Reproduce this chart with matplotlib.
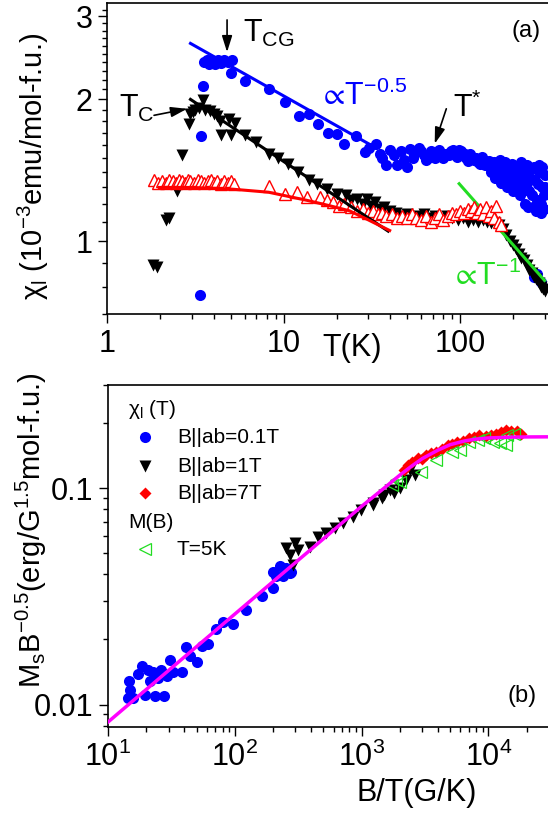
import matplotlib
matplotlib.use('Agg')
import matplotlib.pyplot as plt
from matplotlib.ticker import FixedLocator, FixedFormatter, NullFormatter, LogLocator

plt.rcParams['font.family'] = ['Liberation Sans', 'DejaVu Sans']
plt.rcParams['mathtext.fontset'] = 'custom'
plt.rcParams['mathtext.rm'] = 'Liberation Sans'
plt.rcParams['mathtext.it'] = 'Liberation Sans:italic'
plt.rcParams['mathtext.bf'] = 'Liberation Sans:bold'
plt.rcParams['mathtext.sf'] = 'Liberation Sans'
plt.rcParams['mathtext.default'] = 'regular'
plt.rcParams['mathtext.fallback'] = 'stixsans'

# ---- panel (a): chi_l(T) ----
T_01 = [3.35, 3.40, 3.47, 3.55, 3.65, 3.75, 3.85, 3.95, 4.1, 4.25, 4.4, 4.6, 4.8, 5.0, 5.1,
        6.0, 8.2, 10.2, 12.2, 13.9, 15.6, 17.9, 20.1, 22.0, 25.8, 28.9, 30.5, 33.2, 35, 38,
        40, 43.8, 46, 50, 52, 55, 58, 62, 66, 70, 74, 78, 83, 88, 93, 98, 103, 108, 114,
        120, 126, 132, 138, 145, 152, 160, 165, 172, 178, 185, 192, 198, 205, 212, 218,
        225, 232, 238, 245, 252, 258, 265, 272, 278, 285, 290, 296, 300, 262, 272, 285,
        36, 42, 48, 54, 60, 64, 68, 72, 76, 80, 86, 91, 96, 101, 106, 111, 117, 123, 129,
        135, 141, 148, 150, 155, 158, 162, 168, 170, 175, 180, 183, 188, 195, 200, 203, 208,
        215, 220, 228, 235, 240, 242, 248, 255, 260, 268, 275, 280, 288, 292, 298, 300]
chi_01 = [0.77, 1.67, 2.14, 2.40, 2.43, 2.38, 2.42, 2.40, 2.38, 2.42, 2.39, 2.43, 2.40, 2.28, 2.42,
          2.19, 2.10, 1.97, 1.84, 1.86, 1.775, 1.70, 1.69, 1.61, 1.676, 1.545, 1.58, 1.61, 1.53, 1.45,
          1.56, 1.45, 1.55, 1.44, 1.57, 1.53, 1.58, 1.52, 1.50, 1.53, 1.52, 1.54, 1.53, 1.55, 1.53, 1.56,
          1.52, 1.50, 1.53, 1.49, 1.47, 1.51, 1.45, 1.48, 1.44, 1.46, 1.40, 1.45, 1.38, 1.43, 1.35,
          1.40, 1.30, 1.42, 1.25, 1.38, 1.20, 1.33, 1.28, 1.42, 1.18, 1.35, 1.22, 1.45, 1.15, 1.30,
          1.25, 1.38, 0.84, 0.85, 0.82,
          1.50, 1.52, 1.49, 1.50, 1.55, 1.49, 1.55, 1.50, 1.56, 1.50, 1.52, 1.56, 1.51, 1.55, 1.53,
          1.48, 1.51, 1.50, 1.46, 1.49, 1.47, 1.45, 1.40, 1.47, 1.36, 1.43, 1.49, 1.33, 1.41, 1.47,
          1.30, 1.39, 1.46, 1.28, 1.37, 1.44, 1.33, 1.47, 1.29, 1.40, 1.45, 1.18, 1.36, 1.25, 1.44,
          1.16, 1.32, 1.40, 1.20, 1.44, 1.17, 1.30]

T_1 = [1.82, 1.92, 2.16, 2.24, 2.47, 2.64, 2.9, 2.96, 3.05, 3.15, 3.3, 3.48, 3.6, 3.8, 4.0, 4.2,
       4.35, 4.4, 4.9, 5.0, 5.3, 6.0, 7.0, 8.2, 9.3, 10.6, 12.0, 13.9, 15.5, 17.6, 20.1, 22.4,
       24, 26, 28, 29.6, 31, 33, 35, 37, 40, 43, 46, 50, 54, 58, 62, 67, 72, 78, 84, 90, 97,
       104, 111, 118, 126, 134, 142, 150, 158, 166, 174, 182, 190, 198, 206, 214, 222, 230,
       238, 246, 254, 262, 270, 278, 286, 294, 300]
chi_1 = [0.89, 0.88, 1.11, 1.12, 1.28, 1.52, 1.775, 1.86, 1.88, 1.90, 1.92, 1.99, 1.90, 1.89, 1.86, 1.84,
         1.80, 1.68, 1.82, 1.68, 1.78, 1.68, 1.62, 1.53, 1.50, 1.46, 1.40, 1.345, 1.32, 1.29, 1.26, 1.25,
         1.22, 1.23, 1.20, 1.23, 1.19, 1.21, 1.17, 1.18, 1.16, 1.15, 1.13, 1.14, 1.12, 1.13, 1.14, 1.12,
         1.13, 1.11, 1.13, 1.12, 1.11, 1.12, 1.10, 1.11, 1.10, 1.11, 1.10, 1.09, 1.09, 1.08, 1.06, 1.03,
         1.00, 0.98, 0.96, 0.94, 0.92, 0.91, 0.89, 0.87, 0.855, 0.84, 0.83, 0.815, 0.80, 0.79, 0.785]

T_7 = [1.85, 1.95, 2.05, 2.15, 2.25, 2.35, 2.45, 2.55, 2.65, 2.75, 2.85, 2.95, 3.1, 3.25, 3.4,
       3.55, 3.7, 3.85, 4.0, 4.2, 4.4, 4.6, 4.8, 5.0, 5.2, 8.2, 10.2, 11.9, 13.6, 16, 17.5, 19,
       20.5, 22, 24, 26, 28, 30, 32, 34, 36, 38, 41, 44, 47, 50, 53, 56, 60, 64, 68, 72, 76, 80,
       85, 90, 95, 100, 105, 110, 115, 120, 125, 130, 135, 140, 145, 150, 155, 160, 165, 170]
chi_7 = [1.35, 1.33, 1.34, 1.33, 1.35, 1.34, 1.33, 1.35, 1.34, 1.33, 1.35, 1.34, 1.33, 1.35, 1.34,
         1.33, 1.34, 1.35, 1.33, 1.34, 1.32, 1.34, 1.33, 1.34, 1.32, 1.31, 1.26, 1.27, 1.24, 1.24, 1.22, 1.21,
         1.19, 1.20, 1.18, 1.16, 1.17, 1.15, 1.16, 1.14, 1.15, 1.13, 1.14, 1.12, 1.13, 1.12, 1.14, 1.12,
         1.11, 1.13, 1.10, 1.12, 1.14, 1.11, 1.13, 1.15, 1.14, 1.16, 1.15, 1.17, 1.16, 1.18, 1.15, 1.17,
         1.14, 1.18, 1.13, 1.16, 1.12, 1.19, 1.10, 1.08]

# fit lines
fit_blue_T, fit_blue_chi = [2.96, 33], [2.63, 1.58]
fit_black_T, fit_black_chi = [2.96, 39], [2.0, 1.05]
fit_red_T = [1.97, 3.0, 5.0, 8.2, 13.6, 18.0, 23.5, 30.0, 39.8]
fit_red_chi = [1.30, 1.30, 1.29, 1.27, 1.22, 1.19, 1.16, 1.11, 1.053]
fit_green_T, fit_green_chi = [98.5, 300], [1.324, 0.825]

# ---- panel (b): scaling plot ----
bt_01 = [14.5, 15.8, 14.9, 14.7, 17.3, 18.4, 20.8, 22.7, 26.4, 21.4, 19.6, 23.5, 27.6, 24.9, 30.8,
         29.0, 32.7, 38.0, 41.1, 44.2, 49.9, 54.8, 61.7, 70.8, 80.8, 96.9, 121.6, 165, 200, 200,
         226, 255, 279, 213, 240, 271]
m_01 = [0.0107, 0.0107, 0.0117, 0.0129, 0.0138, 0.0150, 0.0145, 0.0142, 0.0144, 0.0128, 0.0111,
        0.0110, 0.0109, 0.0132, 0.0161, 0.0136, 0.0142, 0.0142, 0.0184, 0.0167, 0.0157, 0.0186,
        0.0191, 0.0223, 0.0242, 0.0236, 0.0275, 0.0316, 0.0345, 0.0412, 0.0435, 0.0427, 0.0412,
        0.0391, 0.0391, 0.0405]
bt_1 = [255, 297, 316, 272, 289, 389, 453, 527, 613, 712, 857, 996, 1228, 1223, 1450, 1500, 1659,
        1800, 1990, 2247, 2390, 2615]
m_1 = [0.0528, 0.0557, 0.0519, 0.0493, 0.0442, 0.0536, 0.0598, 0.0620, 0.0654, 0.0687, 0.0739,
       0.0794, 0.0851, 0.0838, 0.0900, 0.0930, 0.0982, 0.0950, 0.1000, 0.1090, 0.1210, 0.1155]
bt_7 = [2150, 2300, 2500, 2760, 3000, 3235, 3500, 3870, 4300, 4790, 5200, 5660, 6300, 7000, 7700,
        8430, 9500, 10500, 11400, 12500, 13700, 15000, 16900, 17900]
m_7 = [0.122, 0.128, 0.132, 0.138, 0.137, 0.142, 0.145, 0.147, 0.152, 0.158, 0.160, 0.164, 0.166,
       0.170, 0.172, 0.176, 0.174, 0.177, 0.179, 0.182, 0.186, 0.184, 0.183, 0.179]
bt_mb = [1750, 1850, 2000, 2950, 3870, 5200, 6000, 7000, 8210, 9270, 10900, 12400, 13700, 14100, 15900]
m_mb = [0.104, 0.109, 0.107, 0.119, 0.135, 0.147, 0.150, 0.164, 0.167, 0.170, 0.164, 0.161, 0.158,
        0.176, 0.179]
fit_bt = [10, 100, 1000, 1500, 2000, 2500, 3000, 4000, 5000, 6500, 8000, 10000, 15000, 20000, 30000]
fit_m = [0.0083, 0.0262, 0.0825, 0.100, 0.115, 0.127, 0.137, 0.150, 0.159, 0.1655, 0.1687, 0.1708,
         0.1722, 0.1726, 0.1728]

BLUE, RED, GREEN, MAG = '#0000ff', '#ff0000', '#22dd22', '#ff00ff'
W, H = 548, 814
BIG = 22

fig = plt.figure(figsize=(W / 100, H / 100), dpi=100)
ax1 = fig.add_axes([107.3 / W, 1 - 314 / H, (549 - 107.3) / W, (314 - 3.3) / H])
ax2 = fig.add_axes([108 / W, 1 - 726.7 / H, (549 - 108) / W, (726.7 - 385) / H])

for ax in (ax1, ax2):
    ax.set_xscale('log')
    ax.set_yscale('log')
    ax.spines['right'].set_visible(False)
    for s in ('left', 'bottom', 'top'):
        ax.spines[s].set_linewidth(1.2)
    ax.tick_params(which='both', direction='out', top=False, right=False, width=1.0,
                   labelsize=BIG, pad=4)
    ax.tick_params(which='major', length=6.5)
    ax.tick_params(which='minor', length=3.6)

# panel (a)
ax1.plot(T_01, chi_01, 'o', color=BLUE, ms=8, mec='none', zorder=2)
ax1.plot(T_1, chi_1, 'v', color='k', ms=8.5, mec='none', zorder=3)
ax1.plot(fit_green_T, fit_green_chi, '-', color=GREEN, lw=2.2, zorder=4)
ax1.plot(T_7, chi_7, '^', mfc='white', mec=RED, ms=8, mew=1.0, zorder=5)
ax1.plot(fit_blue_T, fit_blue_chi, '-', color=BLUE, lw=2.2, zorder=6)
ax1.plot(fit_black_T, fit_black_chi, '-', color='k', lw=2.2, zorder=6)
ax1.plot(fit_red_T, fit_red_chi, '-', color=RED, lw=2.2, zorder=6)

ax1.set_xlim(1, 318)
ax1.set_ylim(0.70, 3.2)
ax1.xaxis.set_major_locator(FixedLocator([1, 10, 100]))
ax1.xaxis.set_major_formatter(FixedFormatter(['1', '10', '100']))
ax1.xaxis.set_minor_locator(LogLocator(base=10, subs=range(2, 10)))
ax1.xaxis.set_minor_formatter(NullFormatter())
ax1.yaxis.set_major_locator(FixedLocator([1, 2, 3]))
ax1.yaxis.set_major_formatter(FixedFormatter(['1', '2', '3']))
ax1.yaxis.set_minor_locator(FixedLocator([0.7, 0.8, 0.9] + [1 + 0.1 * i for i in range(1, 10)]
                                         + [2 + 0.1 * i for i in range(1, 10)] + [3.1]))
ax1.yaxis.set_minor_formatter(NullFormatter())

arr = dict(arrowstyle='-|>,head_length=0.7,head_width=0.22', color='k', lw=1.2,
           shrinkA=0, shrinkB=0, mutation_scale=14)
ax1.annotate('', xy=(4.77, 2.52), xytext=(4.77, 2.95), arrowprops=arr)
ax1.annotate('', xy=(2.83, 1.91), xytext=(1.84, 1.85), arrowprops=arr)
ax1.annotate('', xy=(71.6, 1.61), xytext=(83.3, 1.91), arrowprops=arr)

tk = dict(transform=ax1.transAxes, ha='left', va='baseline', fontsize=BIG)
ax1.text(0.307, 0.875, r'T$_{\rm CG}$', **tk)
ax1.text(0.0265, 0.634, r'T$_{\rm C}$', **tk)
ax1.text(0.477, 0.673, r'$\propto\!$T$^{-0.5}$', color=BLUE, **tk)
ax1.text(0.783, 0.634, r'T$^{*}$', **tk)
ax1.text(0.776, 0.093, r'$\propto\!$T$^{-1}$', color=GREEN, **tk)
ax1.text(0.916, 0.89, '(a)', transform=ax1.transAxes, ha='left', va='baseline', fontsize=17)
ax1.text(0.554, -0.061, 'T(K)', transform=ax1.transAxes, ha='center', va='top', fontsize=BIG)

# panel (b)
ax2.plot(bt_01, m_01, 'o', color=BLUE, ms=8, mec='none', zorder=2)
ax2.plot(bt_1, m_1, 'v', color='k', ms=8.5, mec='none', zorder=3)
ax2.plot(bt_7, m_7, 'D', color=RED, ms=6, mec='none', zorder=4)
ax2.plot(bt_mb, m_mb, '<', mfc='none', mec=GREEN, ms=8, mew=0.9, zorder=5)
ax2.plot(fit_bt, fit_m, '-', color=MAG, lw=2.5, zorder=6)

ax2.set_xlim(10, 3e4)
ax2.set_ylim(0.0079, 0.30)
ax2.xaxis.set_minor_locator(LogLocator(base=10, subs=range(2, 10)))
ax2.xaxis.set_minor_formatter(NullFormatter())
ax2.yaxis.set_major_locator(FixedLocator([0.01, 0.1]))
ax2.yaxis.set_major_formatter(FixedFormatter(['0.01', '0.1']))
ax2.yaxis.set_minor_locator(LogLocator(base=10, subs=range(2, 10)))
ax2.yaxis.set_minor_formatter(NullFormatter())
ax2.text(0.70, -0.150, 'B/T(G/K)', transform=ax2.transAxes, ha='center', va='top', fontsize=BIG)
ax2.text(0.905, 0.072, '(b)', transform=ax2.transAxes, ha='left', va='baseline', fontsize=17)

# legend drawn by hand (two groups with headers)
lg = dict(transform=ax2.transAxes, ha='left', va='center', fontsize=15)
ax2.text(0.045, 0.928, r'χ$_{\rm l}$ (T)', **lg)
rows = [('o', dict(color=BLUE, mec='none', ms=8), 'B||ab=0.1T', 0.847),
        ('v', dict(color='k', mec='none', ms=8.5), 'B||ab=1T', 0.762),
        ('D', dict(color=RED, mec='none', ms=6), 'B||ab=7T', 0.683),
        ('<', dict(mfc='none', mec=GREEN, ms=8, mew=0.9), 'T=5K', 0.520)]
for mk, kw, lab, yy in rows:
    ax2.plot([0.084], [yy], mk, transform=ax2.transAxes, clip_on=False, **kw)
    ax2.text(0.156, yy, lab, **lg)
ax2.text(0.045, 0.598, 'M(B)', **lg)

fig.text(33 / W, 1 - 166 / H, r'χ$_{\rm l}$ (10$^{-3}$emu/mol-f.u.)', rotation=90,
         ha='center', va='center', fontsize=21)
fig.text(31 / W, 1 - 530 / H, r'M$_{\rm s}$B$^{-0.5}$(erg/G$^{1.5}$mol-f.u.)', rotation=90,
         ha='center', va='center', fontsize=21)

fig.savefig('out.png', dpi=100)
